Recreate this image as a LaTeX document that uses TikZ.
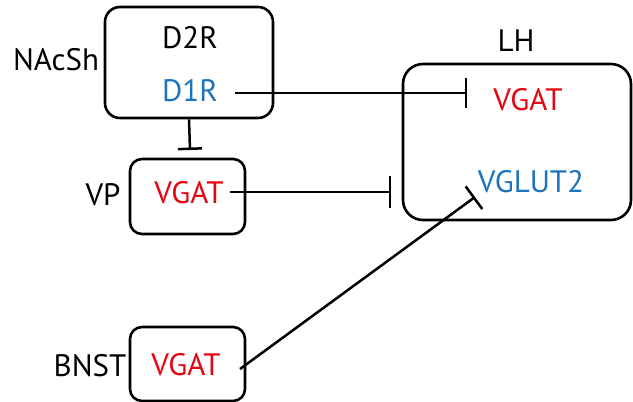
\documentclass[tikz,border=0pt]{standalone}
\usepackage{fontspec}
\setmainfont{PT Sans}
\usetikzlibrary{arrows.meta}
\definecolor{vred}{RGB}{227,6,19}
\definecolor{vblue}{RGB}{28,117,188}
\begin{document}
\begin{tikzpicture}[x=1pt,y=-1pt,
  box/.style={draw, line width=2.6pt, rounded corners=#1, inner sep=0pt},
  lbl/.style={font=\fontsize{31}{31}\selectfont, inner sep=0pt, anchor=center},
  inhib/.style={line width=2.5pt, -{Bar[width=#1, line width=2.5pt]}},
  ]
\useasboundingbox (0,0) rectangle (633,402);
% boxes
\node[box=15pt, minimum width=168pt, minimum height=111pt] (nac) at (189,62.5) {};
\node[box=12pt, minimum width=115pt, minimum height=75pt] (vp) at (187.5,196.5) {};
\node[box=12pt, minimum width=115pt, minimum height=74pt] (bnst) at (187.5,364) {};
\node[box=20pt, minimum width=228pt, minimum height=156pt] (lh) at (517,142) {};
% labels
\node[lbl] (nacl) at (56,60) {NAcSh};
\node[lbl] (vpl) at (103,195) {VP};
\node[lbl] (bnstl) at (90,366) {BNST};
\node[lbl] (lhl) at (516,41) {LH};
\node[lbl] (d2r) at (190,38) {D2R};
\node[lbl, text=vblue] (d1r) at (190,91) {D1R};
\node[lbl, text=vred] (vpg) at (189,193) {VGAT};
\node[lbl, text=vred] (bng) at (186,365) {VGAT};
\node[lbl, text=vred] (lhg) at (528,100) {VGAT};
\node[lbl, text=vblue] (lhv) at (531,182) {VGLUT2};
% endpoints
\coordinate (e1) at (467,93);
\coordinate (e2) at (391,192);
\coordinate (e3) at (190,150);
\coordinate (e4) at (475,197);
\coordinate (s1) at (235,93);
\coordinate (s2) at (230,192);
\coordinate (s4) at (240,369);
% connectors
\draw[inhib=30pt] (s1) -- (e1);
\draw[inhib=32pt] (s2) -- (e2);
\draw[inhib=24pt] (nac.south) -- (e3);
\draw[inhib=28pt] (s4) -- (e4);
\end{tikzpicture}
\end{document}
